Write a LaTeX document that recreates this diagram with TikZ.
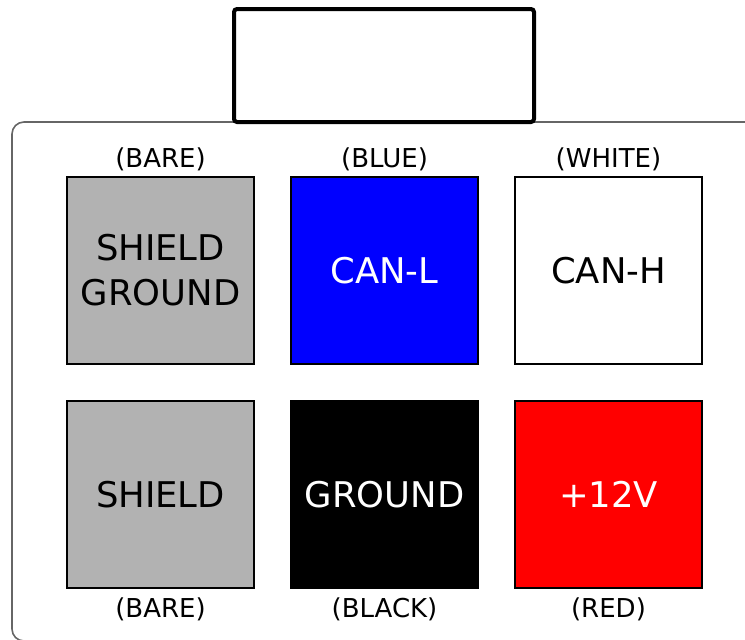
\documentclass[tikz,border=0pt]{standalone}
\usepackage{fontspec}
\setmainfont{DejaVu Sans}
\usetikzlibrary{positioning}

\tikzset{
  pin/.style={draw=black,line width=1pt,minimum size=93.5pt,inner sep=0pt,
    align=center,font=\fontsize{17.7}{22.5}\selectfont},
  tag/.style={anchor=base,inner sep=0pt,font=\fontsize{13}{15}\selectfont}
}

\begin{document}
\begin{tikzpicture}[x=0.5pt,y=-0.5pt]

\useasboundingbox (0,0) rectangle (745,639);
\clip (0,0) rectangle (745,639);

% Draw the housing
\draw[color=black!60,line width=0.8pt,rounded corners=6pt] (12,122) rectangle (770,641);
\draw[color=black,line width=2pt,rounded corners=1.5pt,fill=white] (234,9) rectangle (534,122);

% Draw the pins
\node[pin,fill=black!30] (pinSG) at (160.5,270.5) {SHIELD\\GROUND};
\node[pin,fill=blue,text=white] (pinCL) at (384.5,270.5) {CAN-L};
\node[pin,fill=white] (pinCH) at (608.5,270.5) {CAN-H};
\node[pin,fill=black!30] (pinSH) at (160.5,494.5) {SHIELD};
\node[pin,fill=black,text=white] (pinGND) at (384.5,494.5) {GROUND};
\node[pin,fill=red,text=white] (pinV) at (608.5,494.5) {+12V};

% Draw the wire colours
\node[tag] (tagSG) at (160.5,167) {(BARE)};
\node[tag] (tagCL) at (384.5,167) {(BLUE)};
\node[tag] (tagCH) at (608.5,167) {(WHITE)};
\node[tag] (tagSH) at (160.5,617) {(BARE)};
\node[tag] (tagGND) at (384.5,617) {(BLACK)};
\node[tag] (tagV) at (608.5,617) {(RED)};

\end{tikzpicture}
\end{document}
